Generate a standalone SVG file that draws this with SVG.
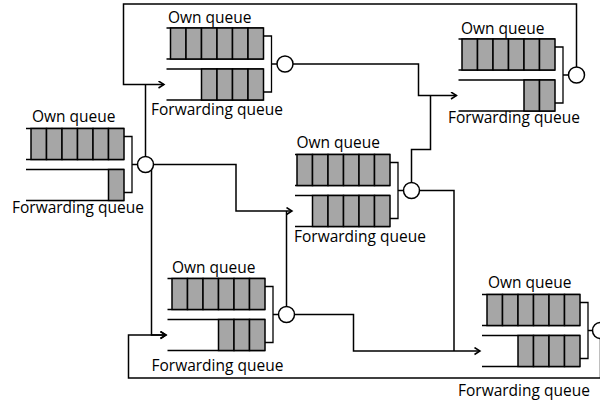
<svg xmlns="http://www.w3.org/2000/svg" width="600" height="404" viewBox="0 0 600 404">
<defs>
<style>
.q{stroke:#000;stroke-width:1.5;fill:none}
.c{fill:#a6a6a6;stroke:#000;stroke-width:1.5}
.b{fill:none;stroke:#000;stroke-width:1.3}
.o{fill:#fff;stroke:#000;stroke-width:1.5}
.w{fill:none;stroke:#000;stroke-width:1.5}
.t{font-family:"Open Sans","Noto Sans",sans-serif;font-size:15.5px;fill:#000}
</style>
<marker id="ah" markerWidth="8" markerHeight="10" refX="6.5" refY="4" orient="auto" markerUnits="userSpaceOnUse">
<path d="M1,0.5 L6.5,4 L1,7.5" fill="none" stroke="#000" stroke-width="1.5"/>
</marker>
</defs>
<rect width="600" height="404" fill="#fff"/>
<g id="connectors">
<path class="w" d="M576.5 67 V4 H123.5 V84.5 H164" marker-end="url(#ah)"/>
<path class="w" d="M145.5 156.5 V84.5"/>
<path class="w" d="M153.5 164.5 H236 V211 H292" marker-end="url(#ah)"/>
<path class="w" d="M151.5 164.5 V335 H166" marker-end="url(#ah)"/>
<path class="w" d="M293 64 H418.5 V95.5 H456.5" marker-end="url(#ah)"/>
<path class="w" d="M411.5 182.5 V149.5 H430.5 V95.5"/>
<path class="w" d="M419.5 190.5 H454 V351"/>
<path class="w" d="M286.5 306.5 V211"/>
<path class="w" d="M294.5 314.5 H353.5 V351 H480" marker-end="url(#ah)"/>
<path class="w" d="M600.5 338.5 V378 H128.5 V335 H166" marker-end="url(#ah)"/>
</g>
<g id="node1">
<path class="q" d="M26 128.5 H124 M26 159.5 H124 M26 169.5 H124 M26 200.5 H124"/>
<rect class="c" x="31" y="128.5" width="15.5" height="31"/><rect class="c" x="46.5" y="128.5" width="15.5" height="31"/><rect class="c" x="62" y="128.5" width="15.5" height="31"/><rect class="c" x="77.5" y="128.5" width="15.5" height="31"/><rect class="c" x="93" y="128.5" width="15.5" height="31"/><rect class="c" x="108.5" y="128.5" width="15.5" height="31"/>
<rect class="c" x="108.5" y="169.5" width="15.5" height="31"/>
<path class="b" d="M124 136.5 H132 V192.5 H124 M132 164.5 H137.5"/>
<circle class="o" cx="145.5" cy="164.5" r="8"/>
<text class="t" x="32" y="122">Own queue</text>
<text class="t" x="12" y="213">Forwarding queue</text>
</g>
<g id="node2">
<path class="q" d="M166.5 28 H263.5 M166.5 59 H263.5 M166.5 69 H263.5 M166.5 100 H263.5"/>
<rect class="c" x="170.5" y="28" width="15.5" height="31"/><rect class="c" x="186" y="28" width="15.5" height="31"/><rect class="c" x="201.5" y="28" width="15.5" height="31"/><rect class="c" x="217" y="28" width="15.5" height="31"/><rect class="c" x="232.5" y="28" width="15.5" height="31"/><rect class="c" x="248" y="28" width="15.5" height="31"/>
<rect class="c" x="201.5" y="69" width="15.5" height="31"/><rect class="c" x="217" y="69" width="15.5" height="31"/><rect class="c" x="232.5" y="69" width="15.5" height="31"/><rect class="c" x="248" y="69" width="15.5" height="31"/>
<path class="b" d="M263.5 36 H271.5 V92 H263.5 M271.5 64 H277"/>
<circle class="o" cx="285" cy="64" r="8"/>
<text class="t" x="168" y="23">Own queue</text>
<text class="t" x="151" y="114.5">Forwarding queue</text>
</g>
<g id="node3">
<path class="q" d="M458.5 39 H555 M458.5 70 H555 M458.5 80 H555 M458.5 111 H555"/>
<rect class="c" x="462" y="39" width="15.5" height="31"/><rect class="c" x="477.5" y="39" width="15.5" height="31"/><rect class="c" x="493" y="39" width="15.5" height="31"/><rect class="c" x="508.5" y="39" width="15.5" height="31"/><rect class="c" x="524" y="39" width="15.5" height="31"/><rect class="c" x="539.5" y="39" width="15.5" height="31"/>
<rect class="c" x="524" y="80" width="15.5" height="31"/><rect class="c" x="539.5" y="80" width="15.5" height="31"/>
<path class="b" d="M555 47 H563 V103 H555 M563 75 H568.5"/>
<circle class="o" cx="576.5" cy="75" r="8"/>
<text class="t" x="461" y="34">Own queue</text>
<text class="t" x="448" y="123">Forwarding queue</text>
</g>
<g id="node4">
<path class="q" d="M295 154.5 H390 M295 185.5 H390 M295 195.5 H390 M295 226.5 H390"/>
<rect class="c" x="297" y="154.5" width="15.5" height="31"/><rect class="c" x="312.5" y="154.5" width="15.5" height="31"/><rect class="c" x="328" y="154.5" width="15.5" height="31"/><rect class="c" x="343.5" y="154.5" width="15.5" height="31"/><rect class="c" x="359" y="154.5" width="15.5" height="31"/><rect class="c" x="374.5" y="154.5" width="15.5" height="31"/>
<rect class="c" x="312.5" y="195.5" width="15.5" height="31"/><rect class="c" x="328" y="195.5" width="15.5" height="31"/><rect class="c" x="343.5" y="195.5" width="15.5" height="31"/><rect class="c" x="359" y="195.5" width="15.5" height="31"/><rect class="c" x="374.5" y="195.5" width="15.5" height="31"/>
<path class="b" d="M390 162.5 H398 V218.5 H390 M398 190.5 H403.5"/>
<circle class="o" cx="411.5" cy="190.5" r="8"/>
<text class="t" x="296.5" y="147.5">Own queue</text>
<text class="t" x="294" y="241.5">Forwarding queue</text>
</g>
<g id="node5">
<path class="q" d="M167.5 278.5 H265 M167.5 309.5 H265 M167.5 319.5 H265 M167.5 350.5 H265"/>
<rect class="c" x="172" y="278.5" width="15.5" height="31"/><rect class="c" x="187.5" y="278.5" width="15.5" height="31"/><rect class="c" x="203" y="278.5" width="15.5" height="31"/><rect class="c" x="218.5" y="278.5" width="15.5" height="31"/><rect class="c" x="234" y="278.5" width="15.5" height="31"/><rect class="c" x="249.5" y="278.5" width="15.5" height="31"/>
<rect class="c" x="218.5" y="319.5" width="15.5" height="31"/><rect class="c" x="234" y="319.5" width="15.5" height="31"/><rect class="c" x="249.5" y="319.5" width="15.5" height="31"/>
<path class="b" d="M265 286.5 H273 V342.5 H265 M273 314.5 H278.5"/>
<circle class="o" cx="286.5" cy="314.5" r="8"/>
<text class="t" x="172" y="273">Own queue</text>
<text class="t" x="151.5" y="370.5">Forwarding queue</text>
</g>
<g id="node6">
<path class="q" d="M482 294.5 H580 M482 325.5 H580 M482 335.5 H580 M482 366.5 H580"/>
<rect class="c" x="487" y="294.5" width="15.5" height="31"/><rect class="c" x="502.5" y="294.5" width="15.5" height="31"/><rect class="c" x="518" y="294.5" width="15.5" height="31"/><rect class="c" x="533.5" y="294.5" width="15.5" height="31"/><rect class="c" x="549" y="294.5" width="15.5" height="31"/><rect class="c" x="564.5" y="294.5" width="15.5" height="31"/>
<rect class="c" x="518" y="335.5" width="15.5" height="31"/><rect class="c" x="533.5" y="335.5" width="15.5" height="31"/><rect class="c" x="549" y="335.5" width="15.5" height="31"/><rect class="c" x="564.5" y="335.5" width="15.5" height="31"/>
<path class="b" d="M580 302.5 H588 V358.5 H580 M588 330.5 H592.5"/>
<circle class="o" cx="600.5" cy="330.5" r="8"/>
<text class="t" x="488" y="288">Own queue</text>
<text class="t" x="458" y="395.5">Forwarding queue</text>
</g>
</svg>
